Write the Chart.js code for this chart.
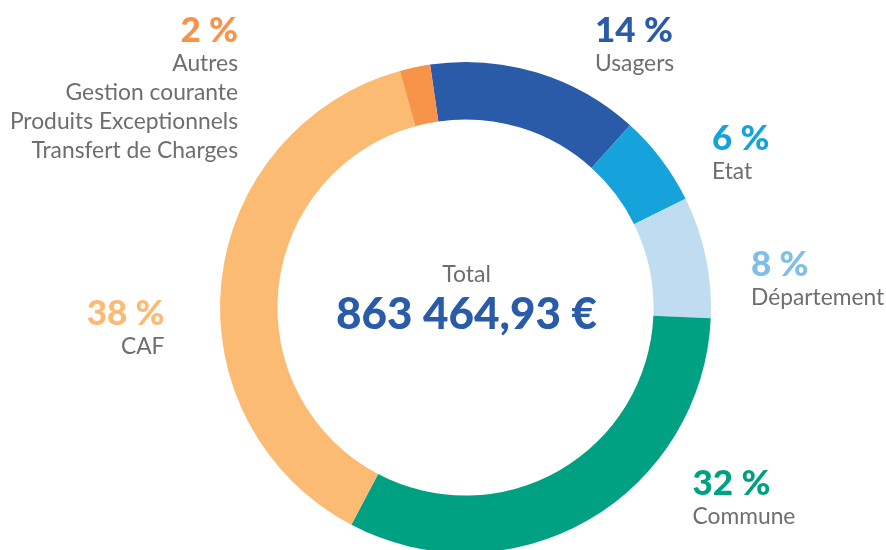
<!DOCTYPE html>
<html>
<head>
<meta charset="utf-8">
<script src="https://cdn.jsdelivr.net/npm/chart.js@4.4.0/dist/chart.umd.min.js"></script>
<style>
    html, body { margin: 0; padding: 0; background: #fff; overflow: hidden; }
    #wrap { position: relative; width: 886px; height: 560px; }
</style>
</head>
<body>
<div id="wrap"><canvas id="chart"></canvas></div>
<script>
const categories = ['Usagers', 'Etat', 'Département', 'Commune', 'CAF', 'Autres'];
const percents = [14, 6, 8, 32, 38, 2];
const labelLines = [
    ['Usagers'],
    ['Etat'],
    ['Département'],
    ['Commune'],
    ['CAF'],
    ['Autres', 'Gestion courante', 'Produits Exceptionnels', 'Transfert de Charges']
];
const totalText = '863 464,93 €';

const colors = ['#2a5ba8', '#16a3dc', '#c0dcf1', '#00a082', '#fbbb72', '#f7944a'];
// percentage text colours (the light blue slice gets a darker label)
const pctColors = ['#2a5ba8', '#16a3dc', '#7fbee9', '#00a082', '#fbbb72', '#f7944a'];
const grey = '#6d6e71';
const font = 'Lato, "Liberation Sans", sans-serif';

// where each label block sits, relative to the doughnut centre
const labelPos = [
    {dx: 129.5, dy: -265.5, align: 'left'},
    {dx: 246.5, dy: -157.5, align: 'left'},
    {dx: 285.5, dy: -31.5, align: 'left'},
    {dx: 227, dy: 187.5, align: 'left'},
    {dx: -301, dy: 17.5, align: 'right'},
    {dx: -227.5, dy: -266, align: 'right'}
];

const labelsPlugin = {
    id: 'outerLabels',
    afterDraw(chart) {
        let ctx = chart.ctx;
        let arc = chart.getDatasetMeta(0).data[0];
        let cx = arc.x, cy = arc.y;
        ctx.save();
        ctx.textBaseline = 'alphabetic';
        labelPos.forEach((p, i) => {
            let x = cx + p.dx, y = cy + p.dy;
            ctx.textAlign = p.align;
            ctx.fillStyle = pctColors[i];
            ctx.font = '900 35px ' + font;
            ctx.fillText(percents[i] + ' %', x, y);
            ctx.fillStyle = grey;
            ctx.font = '22.8px ' + font;
            labelLines[i].forEach((line, j) => {
                ctx.fillText(line, x, y + 29 + j * 29);
            });
        });
        ctx.textAlign = 'center';
        ctx.fillStyle = grey;
        ctx.font = '23px ' + font;
        ctx.fillText('Total', cx + 1, cy - 25.5);
        ctx.fillStyle = '#2a5ba8';
        ctx.font = '900 44px ' + font;
        ctx.fillText(totalText, cx + 1, cy + 21);
        ctx.restore();
    }
};

let ctx = document.getElementById('chart').getContext('2d');
let chart = new Chart(ctx, {
    type: 'doughnut',
    data: {
        labels: categories,
        datasets: [{
            data: percents,
            backgroundColor: colors,
            borderWidth: 0
        }]
    },
    options: {
        responsive: true,
        maintainAspectRatio: false,
        animation: false,
        cutout: '76.6%',
        rotation: -8.3,
        layout: {padding: {top: 62, left: 220, right: 175, bottom: 7}},
        plugins: {
            legend: {display: false},
            tooltip: {enabled: false}
        }
    },
    plugins: [labelsPlugin]
});
</script>
</body>
</html>
